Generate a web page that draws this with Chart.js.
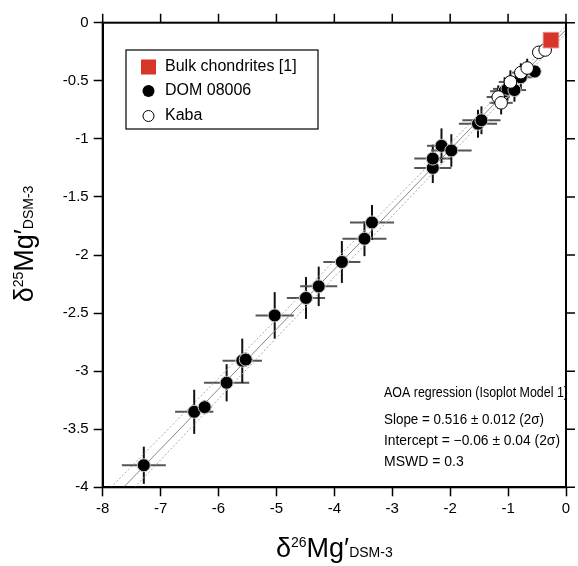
<!DOCTYPE html>
<html>
<head>
<meta charset="utf-8">
<script src="https://cdn.jsdelivr.net/npm/chart.js@4/dist/chart.umd.min.js"></script>
<style>
html, body { margin: 0; padding: 0; background: #fff; }
</style>
</head>
<body>
<canvas id="miGrafica" width="578" height="566"></canvas>
<script>
// datos (d26Mg', d25Mg')
const domX    = [-7.29, -6.42, -6.24, -5.86, -5.59, -5.53, -5.03, -4.49, -4.27, -3.87, -3.48, -3.35, -2.30, -2.30, -2.15, -1.98, -1.52, -1.46, -1.06, -1.01, -0.89, -0.78, -0.54]
const domY    = [-3.81, -3.35, -3.31, -3.10, -2.91, -2.90, -2.52, -2.37, -2.27, -2.06, -1.86, -1.72, -1.25, -1.17, -1.06, -1.10, -0.87, -0.84, -0.59, -0.57, -0.58, -0.47, -0.42]
const domXErr = [0.38, 0.33, 0.12, 0.39, 0.34, 0.12, 0.33, 0.33, 0.32, 0.32, 0.38, 0.38, 0.32, 0.32, 0.25, 0.35, 0.33, 0.33, 0.25, 0.25, 0.2, 0.2, 0.1]
const domYErr = [0.16, 0.19, 0.06, 0.16, 0.19, 0.06, 0.2, 0.18, 0.17, 0.18, 0.15, 0.15, 0.13, 0.12, 0.15, 0.14, 0.12, 0.12, 0.12, 0.1, 0.1, 0.1, 0.05]

const kabaX    = [-1.17, -1.12, -0.96, -0.78, -0.67, -0.47, -0.36]
const kabaY    = [-0.64, -0.69, -0.51, -0.43, -0.39, -0.255, -0.235]
const kabaXErr = [0.2, 0.2, 0.2, 0.15, 0.15, 0.1, 0.1]
const kabaYErr = [0.1, 0.1, 0.1, 0.08, 0.08, 0.05, 0.05]

const bulkX = [-0.26]
const bulkY = [-0.15]

// regresion y envolvente
const regX = [-7.64, 0]
const regY = [-4.0, -0.06]
const envUpX = [-7.86, 0]
const envUpY = [-4.0, -0.03]
const envLoX = [-7.45, 0]
const envLoY = [-4.0, -0.09]

const xTicksMin = -8, xTicksMax = 0, xStep = 1
const yTicksMin = -4, yTicksMax = 0, yStep = 0.5

const legendLabels = ["Bulk chondrites [1]", "DOM 08006", "Kaba"]
const notas = ["AOA regression (Isoplot Model 1)", "Slope = 0.516 \u00b1 0.012 (2\u03c3)", "Intercept = \u22120.06 \u00b1 0.04 (2\u03c3)", "MSWD = 0.3"]

function puntos(xs, ys) {
    return xs.map((x, i) => ({ x: x, y: ys[i] }))
}

Chart.defaults.font.family = "'Liberation Sans', Arial, sans-serif"
Chart.defaults.color = "#000"

const FUENTE = "'Liberation Sans', Arial, sans-serif"

let errores = {
    id: "errores",
    beforeDatasetsDraw(chart) {
        const ctx = chart.ctx
        const sx = chart.scales.x, sy = chart.scales.y
        const grupos = [
            [domX, domY, domXErr, domYErr],
            [kabaX, kabaY, kabaXErr, kabaYErr]
        ]
        ctx.save()
        ctx.lineWidth = 2
        grupos.forEach(g => {
            g[0].forEach((x, i) => {
                const px = sx.getPixelForValue(x), py = sy.getPixelForValue(g[1][i])
                ctx.strokeStyle = "#555"
                ctx.beginPath()
                ctx.moveTo(sx.getPixelForValue(x - g[2][i]), py)
                ctx.lineTo(sx.getPixelForValue(x + g[2][i]), py)
                ctx.stroke()
                ctx.strokeStyle = "#111"
                ctx.beginPath()
                ctx.moveTo(px, sy.getPixelForValue(g[1][i] - g[3][i]))
                ctx.lineTo(px, sy.getPixelForValue(g[1][i] + g[3][i]))
                ctx.stroke()
            })
        })
        ctx.restore()
    }
}

function titulo(ctx, partes, cx, cy, rot) {
    ctx.save()
    ctx.translate(cx, cy)
    if (rot) ctx.rotate(-Math.PI / 2)
    let total = 0
    partes.forEach(p => {
        ctx.font = p.s + "px " + FUENTE
        p.w = ctx.measureText(p.t).width
        total += p.w
    })
    let x = -total / 2
    ctx.textBaseline = "alphabetic"
    ctx.textAlign = "left"
    ctx.fillStyle = "#000"
    partes.forEach(p => {
        ctx.font = p.s + "px " + FUENTE
        ctx.fillText(p.t, x, p.dy)
        x += p.w
    })
    ctx.restore()
}

let extras = {
    id: "extras",
    afterDraw(chart) {
        const ctx = chart.ctx
        const a = chart.chartArea
        const sx = chart.scales.x, sy = chart.scales.y
        ctx.save()
        // marco
        ctx.strokeStyle = "#000"
        ctx.lineWidth = 2
        ctx.strokeRect(a.left, a.top, a.right - a.left, a.bottom - a.top)
        // ticks espejo
        ctx.lineWidth = 1.5
        ctx.beginPath()
        sx.ticks.forEach(t => {
            const p = sx.getPixelForValue(t.value)
            ctx.moveTo(p, a.top)
            ctx.lineTo(p, a.top - 9)
        })
        sy.ticks.forEach(t => {
            const p = sy.getPixelForValue(t.value)
            ctx.moveTo(a.right, p)
            ctx.lineTo(a.right + 9, p)
        })
        ctx.stroke()

        // leyenda
        ctx.lineWidth = 1.2
        ctx.strokeStyle = "#000"
        ctx.fillStyle = "#fff"
        ctx.fillRect(126, 50, 192, 79)
        ctx.strokeRect(126, 50, 192, 79)
        const ly = [67, 91, 116]
        ctx.fillStyle = "#d8352a"
        ctx.fillRect(141, ly[0] - 7.5, 15, 15)
        ctx.fillStyle = "#000"
        ctx.beginPath()
        ctx.arc(148.5, ly[1], 6, 0, Math.PI * 2)
        ctx.fill()
        ctx.fillStyle = "#fff"
        ctx.lineWidth = 1
        ctx.beginPath()
        ctx.arc(148.5, ly[2], 5.5, 0, Math.PI * 2)
        ctx.fill()
        ctx.stroke()
        ctx.fillStyle = "#000"
        ctx.font = "16px " + FUENTE
        ctx.textBaseline = "middle"
        ctx.textAlign = "left"
        legendLabels.forEach((l, i) => ctx.fillText(l, 165, ly[i]))

        // texto de la regresion
        ctx.font = "14px " + FUENTE
        const ny = [393, 420, 441, 462]
        const anchoMax = [184, 160, 176, 90]
        notas.forEach((n, i) => ctx.fillText(n, 384, ny[i], anchoMax[i]))
        ctx.restore()

        // titulos de los ejes
        titulo(ctx, [
            { t: "\u03b4", s: 27, dy: 0 },
            { t: "26", s: 14, dy: -10 },
            { t: "Mg\u2032", s: 27, dy: 0 },
            { t: "DSM-3", s: 14, dy: 0 }
        ], (a.left + a.right) / 2, 557, false)
        titulo(ctx, [
            { t: "\u03b4", s: 27, dy: 0 },
            { t: "25", s: 14, dy: -10 },
            { t: "Mg\u2032", s: 27, dy: 0 },
            { t: "DSM-3", s: 14, dy: 0 }
        ], 33, 244, true)
    }
}

let miCanvas = document.getElementById("miGrafica").getContext("2d")

let chart = new Chart(miCanvas, {
    type: "scatter",
    data: {
        datasets: [
            {
                label: "reg",
                type: "line",
                data: puntos(regX, regY),
                borderColor: "#888",
                borderWidth: 1,
                pointRadius: 0,
                order: 10
            },
            {
                label: "envUp",
                type: "line",
                data: puntos(envUpX, envUpY),
                borderColor: "#aaa",
                borderWidth: 1,
                borderDash: [2, 2],
                pointRadius: 0,
                order: 11
            },
            {
                label: "envLo",
                type: "line",
                data: puntos(envLoX, envLoY),
                borderColor: "#aaa",
                borderWidth: 1,
                borderDash: [2, 2],
                pointRadius: 0,
                order: 11
            },
            {
                label: legendLabels[1],
                data: puntos(domX, domY),
                backgroundColor: "#000",
                borderColor: "#ccc",
                borderWidth: 1,
                pointRadius: 6.5,
                order: 3
            },
            {
                label: legendLabels[2],
                data: puntos(kabaX, kabaY),
                backgroundColor: "#fff",
                borderColor: "#000",
                borderWidth: 1,
                pointRadius: 6.3,
                order: 2
            },
            {
                label: legendLabels[0],
                data: puntos(bulkX, bulkY),
                pointStyle: "rect",
                backgroundColor: "#d8352a",
                borderColor: "#ea8a80",
                borderWidth: 1,
                pointRadius: 11,
                order: 1
            }
        ]
    },
    options: {
        responsive: false,
        animation: false,
        layout: { padding: { top: 22.7, right: 9.7, left: 0, bottom: 0 } },
        plugins: {
            legend: { display: false },
            tooltip: { enabled: false }
        },
        scales: {
            x: {
                type: "linear",
                min: xTicksMin,
                max: xTicksMax,
                ticks: { stepSize: xStep, font: { size: 15 }, padding: 4, color: "#000", callback: v => String(v) },
                grid: { drawOnChartArea: false, tickLength: 9, tickWidth: 1.5, tickColor: "#000" },
                border: { color: "#000", width: 2 },
                afterFit: s => { s.height = 78.7 }
            },
            y: {
                type: "linear",
                min: yTicksMin,
                max: yTicksMax,
                ticks: { stepSize: yStep, font: { size: 15 }, padding: 5, color: "#000", callback: v => String(v) },
                grid: { drawOnChartArea: false, tickLength: 9, tickWidth: 1.5, tickColor: "#000" },
                border: { color: "#000", width: 2 },
                afterFit: s => { s.width = 102.7 }
            }
        }
    },
    plugins: [errores, extras]
})
</script>
</body>
</html>
